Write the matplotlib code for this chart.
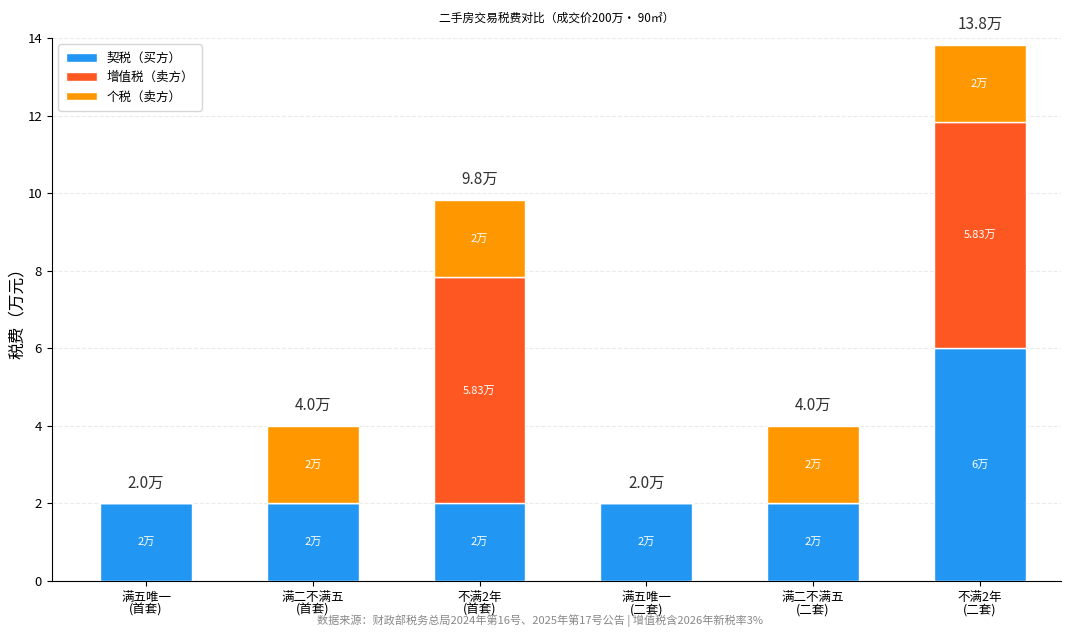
import numpy as np
import matplotlib.pyplot as plt

plt.rcParams['font.family'] = ['Noto Sans CJK SC', 'DejaVu Sans']

# Data
categories = ['满五唯一\n(首套)', '满二不满五\n(首套)', '不满2年\n(首套)',
              '满五唯一\n(二套)', '满二不满五\n(二套)', '不满2年\n(二套)']
deed_tax = [2, 2, 2, 2, 2, 6]          # 契税（买方）
vat = [0, 0, 5.83, 0, 0, 5.83]         # 增值税（卖方）
income_tax = [0, 2, 2, 0, 2, 2]        # 个税（卖方）

series = [('契税（买方）', deed_tax, '#2196F3'),
          ('增值税（卖方）', vat, '#FF5722'),
          ('个税（卖方）', income_tax, '#FF9800')]

fig, ax = plt.subplots(figsize=(10.8, 6.35), dpi=100)
fig.subplots_adjust(left=0.048, right=0.982, top=0.94, bottom=0.085)

x = np.arange(len(categories))
bottom = np.zeros(len(categories))
for name, vals, color in series:
    vals = np.array(vals, dtype=float)
    ax.bar(x, vals, 0.55, bottom=bottom, color=color, edgecolor='white',
           linewidth=1, label=name, zorder=3)
    for i, v in enumerate(vals):
        if v > 0:
            ax.text(x[i], bottom[i] + v / 2, f'{v:g}万', ha='center', va='center',
                    color='white', fontsize=8, zorder=4)
    bottom += vals

# Totals on top of each stack
for i, t in enumerate(bottom):
    ax.text(x[i], t + 0.3, f'{t:.1f}万', ha='center', va='bottom',
            fontsize=11, color='#333333')

ax.set_ylim(0, 14)
ax.set_xlim(-0.565, 5.485)
ax.set_xticks(x)
ax.set_xticklabels(categories, fontsize=9, linespacing=1.0)
ax.tick_params(axis='y', labelsize=9.5)
ax.set_ylabel('税费（万元）', fontsize=12, fontweight='medium', labelpad=1)
ax.set_title('二手房交易税费对比（成交价200万· 90㎡）', fontsize=8.5,
             fontweight='medium', pad=12)
ax.grid(axis='y', linestyle='--', color='#ebebeb', linewidth=0.8, zorder=0)
ax.spines['top'].set_visible(False)
ax.spines['right'].set_visible(False)
ax.legend(loc='upper left', fontsize=9, frameon=True, handlelength=2.5,
          borderpad=0.6, edgecolor='#cccccc')

fig.text(0.5, 0.022, '数据来源：财政部税务总局2024年第16号、2025年第17号公告 | 增值税含2026年新税率3%',
         ha='center', va='center', fontsize=8, color='#888888')

plt.savefig('out.png', dpi=100)
plt.close()
